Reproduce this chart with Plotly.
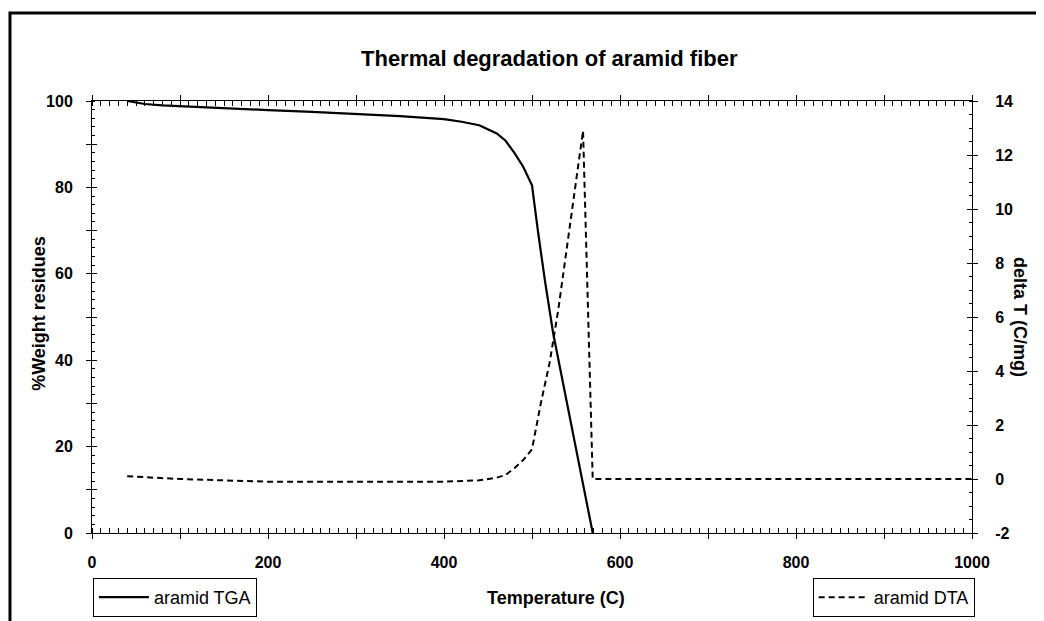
import plotly.graph_objects as go

# ---- data ----
tga_temp = [40, 60, 80, 100, 150, 200, 250, 300, 350, 400, 420, 440, 460, 470, 480, 490, 500, 507, 515, 524, 535, 545, 555, 562, 569]
tga_weight = [100.0, 99.3, 99.0, 98.8, 98.3, 97.9, 97.5, 97.0, 96.5, 95.8, 95.2, 94.4, 92.5, 90.8, 88.0, 84.8, 80.5, 69.5, 58.0, 46.3, 35.0, 24.5, 14.0, 7.0, 0.0]

dta_temp = [40, 100, 200, 300, 400, 440, 460, 470, 480, 490, 500, 510, 520, 530, 540, 550, 558, 569, 1000]
dta_delta = [0.1, 0.0, -0.1, -0.1, -0.1, -0.05, 0.05, 0.15, 0.4, 0.7, 1.1, 2.8, 4.3, 6.3, 8.6, 10.9, 12.9, 0.0, 0.0]

x_tickvals = [0, 100, 200, 300, 400, 500, 600, 700, 800, 900, 1000]
x_ticktext = ["0", "", "200", "", "400", "", "600", "", "800", "", "1000"]
y_tickvals = [0, 10, 20, 30, 40, 50, 60, 70, 80, 90, 100]
y_ticktext = ["0", "", "20", "", "40", "", "60", "", "80", "", "100"]
y2_tickvals = [-2, 0, 2, 4, 6, 8, 10, 12, 14]
y2_ticktext = ["-2", "0", "2", "4", "6", "8", "10", "12", "14"]

title_text = "Thermal degradation of aramid fiber"
x_title = "Temperature (C)"
y_title = "%Weight residues"
y2_title = "delta T (C/mg)"

FONT = "Liberation Sans, Arial, sans-serif"
tickfont = dict(family=FONT, size=16, color="black", weight="bold")

fig = go.Figure()
fig.add_trace(go.Scatter(x=tga_temp, y=tga_weight, mode="lines", name="aramid TGA",
                         line=dict(color="black", width=2.2), legend="legend"))
fig.add_trace(go.Scatter(x=dta_temp, y=dta_delta, mode="lines", name="aramid DTA",
                         yaxis="y2", line=dict(color="black", width=2, dash="6px,4px"),
                         legend="legend2"))
# empty traces to anchor tick-only overlay axes
fig.add_trace(go.Scatter(x=[], y=[], xaxis="x3", yaxis="y3", showlegend=False, hoverinfo="skip"))
fig.add_trace(go.Scatter(x=[], y=[], xaxis="x3", yaxis="y4", showlegend=False, hoverinfo="skip"))

common = dict(showgrid=False, zeroline=False, linecolor="black", tickcolor="black")

fig.update_layout(
    width=1044, height=621,
    margin=dict(l=84, r=80, t=93, b=96),
    paper_bgcolor="white", plot_bgcolor="white",
    showlegend=True,
    xaxis=dict(range=[0, 1000], tickmode="array", tickvals=x_tickvals, ticktext=x_ticktext,
               ticks="outside", ticklen=5, tickwidth=1, showline=True, linewidth=1,
               mirror="allticks", tickfont=tickfont, ticklabelstandoff=10,
               minor=dict(dtick=10, ticks="inside", ticklen=3, tickcolor="black", showgrid=False),
               **common),
    yaxis=dict(range=[0, 100], tickmode="array", tickvals=y_tickvals, ticktext=y_ticktext,
               ticks="outside", ticklen=5, tickwidth=1, showline=True, linewidth=1,
               tickfont=tickfont, ticklabelstandoff=10,
               minor=dict(dtick=2, ticks="inside", ticklen=3, tickcolor="black", showgrid=False),
               **common),
    yaxis2=dict(range=[-2, 14], overlaying="y", side="right", anchor="x",
                tickmode="array", tickvals=y2_tickvals, ticktext=y2_ticktext,
                ticks="outside", ticklen=5, tickwidth=1, showline=True, linewidth=1,
                tickfont=tickfont, ticklabelstandoff=14,
                minor=dict(dtick=0.5, ticks="inside", ticklen=3, tickcolor="black", showgrid=False),
                **common),
    xaxis3=dict(range=[0, 1000], overlaying="x", anchor="y3", tickmode="array", tickvals=x_tickvals,
                ticks="inside", ticklen=5, showticklabels=False, showline=False,
                mirror="allticks", **common),
    yaxis3=dict(range=[0, 100], overlaying="y", anchor="x3", side="left", tickmode="array",
                tickvals=y_tickvals, ticks="inside", ticklen=5, showticklabels=False,
                showline=False, **common),
    yaxis4=dict(range=[-2, 14], overlaying="y", anchor="x3", side="right", tickmode="array",
                tickvals=y2_tickvals, ticks="inside", ticklen=5, showticklabels=False,
                showline=False, **common),
    legend=dict(x=0.001, xanchor="left", y=-0.104, yanchor="top", bgcolor="white",
                bordercolor="black", borderwidth=1, itemwidth=50,
                font=dict(family=FONT, size=18, color="black")),
    legend2=dict(x=1.003, xanchor="right", y=-0.104, yanchor="top", bgcolor="white",
                 bordercolor="black", borderwidth=1, itemwidth=50,
                 font=dict(family=FONT, size=18, color="black")),
    annotations=[
        dict(text=title_text, xref="paper", yref="paper", x=0.52, y=(533 - 58) / 432,
             xanchor="center", yanchor="middle", showarrow=False,
             font=dict(family=FONT, size=22, color="black", weight="bold")),
        dict(text=x_title, xref="paper", yref="paper", x=0.527, y=-0.150,
             xanchor="center", yanchor="middle", showarrow=False,
             font=dict(family=FONT, size=18, color="black", weight="bold")),
        dict(text=y_title, xref="paper", yref="paper", x=-0.061, y=0.508,
             xanchor="center", yanchor="middle", showarrow=False, textangle=-90,
             font=dict(family=FONT, size=18, color="black", weight="bold")),
        dict(text=y2_title, xref="paper", yref="paper", x=1.0545, y=0.50,
             xanchor="center", yanchor="middle", showarrow=False, textangle=90,
             font=dict(family=FONT, size=18, color="black", weight="bold")),
    ],
    shapes=[
        dict(type="rect", xref="paper", yref="paper", x0=-0.0932, y0=-0.3,
             x1=1.2, y1=(533 - 13) / 432, line=dict(color="black", width=3),
             fillcolor="rgba(0,0,0,0)", layer="above"),
    ],
)

fig.write_html("out.html")
